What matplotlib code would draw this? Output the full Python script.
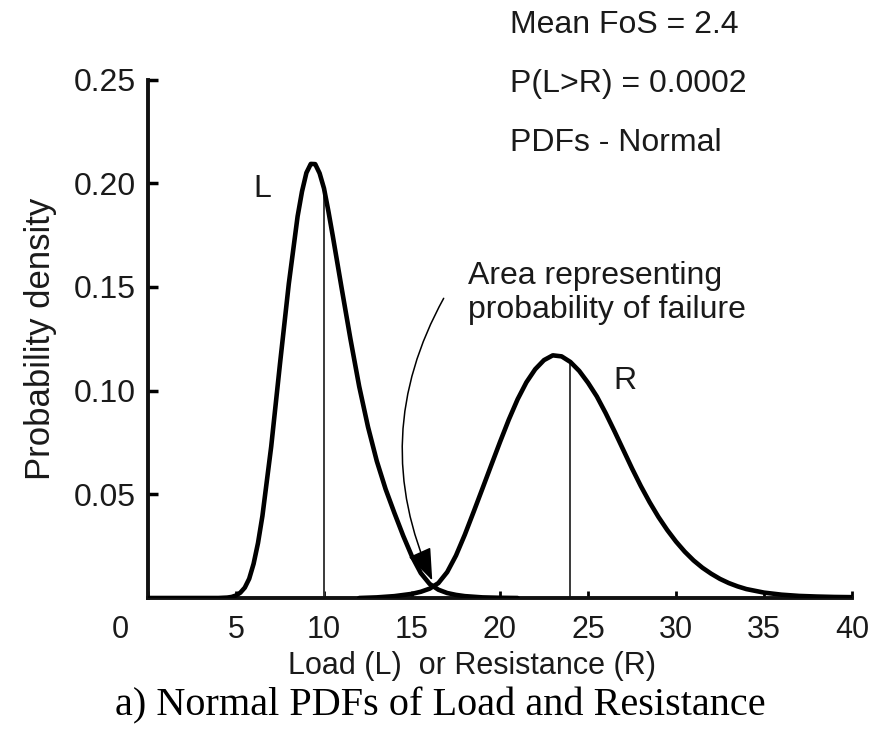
import matplotlib
matplotlib.use("Agg")
import matplotlib.pyplot as plt
from matplotlib.transforms import ScaledTranslation

# values
load_x = [0.0, 4.0, 4.5, 4.75, 5.0, 5.25, 5.5, 5.75, 6.0, 6.25, 6.5, 7.0, 7.5, 8.0, 8.5,
          8.75, 9.0, 9.25, 9.5, 9.75, 10.0, 10.25, 10.5, 11.0, 11.5, 12.0, 12.5, 13.0,
          13.5, 14.0, 14.5, 15.0, 15.5, 16.0, 16.5, 17.0, 17.5, 18.0, 19.0, 20.0, 21.0]
load_pdf = [0.0, 0.0, 0.0002, 0.0005, 0.0012, 0.0026, 0.0050, 0.0093, 0.0165, 0.0265,
            0.0395, 0.0730, 0.1130, 0.1515, 0.1840, 0.1960, 0.2050, 0.2093, 0.2092,
            0.2048, 0.1975, 0.1865, 0.1745, 0.1495, 0.1250, 0.1020, 0.0825, 0.0660,
            0.0525, 0.0410, 0.0300, 0.0200, 0.0120, 0.0068, 0.0040, 0.0024, 0.0015,
            0.0009, 0.0003, 0.0001, 0.0]

res_x = [12.0, 13.0, 14.0, 15.0, 15.5, 16.0, 16.5, 17.0, 17.5, 18.0, 18.5, 19.0, 19.5,
         20.0, 20.5, 21.0, 21.5, 22.0, 22.5, 23.0, 23.5, 24.0, 24.5, 25.0, 25.5, 26.0,
         26.5, 27.0, 27.5, 28.0, 28.5, 29.0, 29.5, 30.0, 30.5, 31.0, 31.5, 32.0, 32.5,
         33.0, 33.5, 34.0, 35.0, 36.0, 37.0, 38.0, 39.0, 40.0]
res_pdf = [0.0, 0.0003, 0.0009, 0.0020, 0.0030, 0.0045, 0.0072, 0.0125, 0.0205, 0.0305,
           0.0415, 0.0527, 0.0640, 0.0752, 0.0860, 0.0958, 0.1040, 0.1103, 0.1147,
           0.1170, 0.1165, 0.1138, 0.1095, 0.1038, 0.0972, 0.0892, 0.0805, 0.0715,
           0.0625, 0.0540, 0.0462, 0.0391, 0.0328, 0.0272, 0.0223, 0.0181, 0.0146,
           0.0117, 0.0092, 0.0072, 0.0056, 0.0043, 0.0026, 0.0016, 0.0010, 0.0007,
           0.0005, 0.0004]

mean_load = 10.0
mean_res = 24.0
load_at_mean = 0.1975
res_at_mean = 0.1138

x_ticks = [0, 5, 10, 15, 20, 25, 30, 35, 40]
y_ticks = [0.05, 0.10, 0.15, 0.20, 0.25]

info_lines = ["Mean FoS = 2.4", "P(L>R) = 0.0002", "PDFs - Normal"]

txt_col = "#1a1a1a"
sans = ["Liberation Sans", "DejaVu Sans"]

fig = plt.figure(figsize=(8.69, 7.35), dpi=100)
ax = fig.add_axes([148 / 869, 1 - 598 / 735, 704 / 869, 518.5 / 735])

# the two pdf curves
ax.plot(load_x, load_pdf, color="black", lw=3.3, solid_capstyle="round",
        solid_joinstyle="round", zorder=3)
ax.plot(res_x, res_pdf, color="black", lw=3.3, solid_capstyle="round",
        solid_joinstyle="round", zorder=3)

# mean lines
ax.vlines([mean_load, mean_res], 0, [load_at_mean, res_at_mean], color="#3a3a3a", lw=1.4, zorder=2)

ax.set_xlim(0, 40)
ax.set_ylim(0, 0.25)

for side in ["top", "right"]:
    ax.spines[side].set_visible(False)
for side in ["left", "bottom"]:
    ax.spines[side].set_linewidth(2.8)
    ax.spines[side].set_color("#111111")

ax.set_xticks(x_ticks)
ax.set_xticklabels([str(v) for v in x_ticks], family=sans, fontsize=22, color=txt_col)
ax.set_yticks(y_ticks)
ax.set_yticklabels(["%.2f" % v for v in y_ticks], family=sans, fontsize=23, color=txt_col)
ax.tick_params(axis="x", direction="in", length=5, width=2, pad=12)
ax.tick_params(axis="y", direction="in", length=7, width=2.5, pad=9)

# the "0" sits left of the corner in the original
zero_lab = ax.get_xticklabels()[0]
zero_lab.set_transform(zero_lab.get_transform() + ScaledTranslation(-0.28, 0, fig.dpi_scale_trans))

ax.set_xlabel("Load (L)  or Resistance (R)", family=sans, fontsize=22, color=txt_col)
ax.xaxis.set_label_coords(0.46, -0.102)
ax.set_ylabel("Probability density", family=sans, fontsize=25, color=txt_col, labelpad=12)

# curve labels
ax.text(6.5, 0.197, "L", family=sans, fontsize=23, color=txt_col, ha="center", va="center")
ax.text(27.1, 0.1046, "R", family=sans, fontsize=23, color=txt_col, ha="center", va="center")

# failure area annotation
ax.annotate("", xy=(16.15, 0.0085), xytext=(16.8, 0.1445),
            arrowprops=dict(arrowstyle="-|>,head_length=1.0,head_width=0.38", color="black",
                            lw=1.1, connectionstyle="arc3,rad=0.25", shrinkA=0, shrinkB=0,
                            mutation_scale=20))
ax.text(18.2, 0.147, "Area representing\nprobability of failure", family=sans, fontsize=23,
        color=txt_col, ha="left", va="center", linespacing=1.15)

# info block top right
for i, line in enumerate(info_lines):
    fig.text(510 / 869, 1 - (25 + i * 59) / 735, line, family=sans, fontsize=23,
             color=txt_col, ha="left", va="center")

fig.text(440 / 869, 1 - 706 / 735, "a) Normal PDFs of Load and Resistance",
         family=["Liberation Serif", "DejaVu Serif"], fontsize=29, color="black",
         ha="center", va="center")

fig.savefig("out.png", dpi=100)
